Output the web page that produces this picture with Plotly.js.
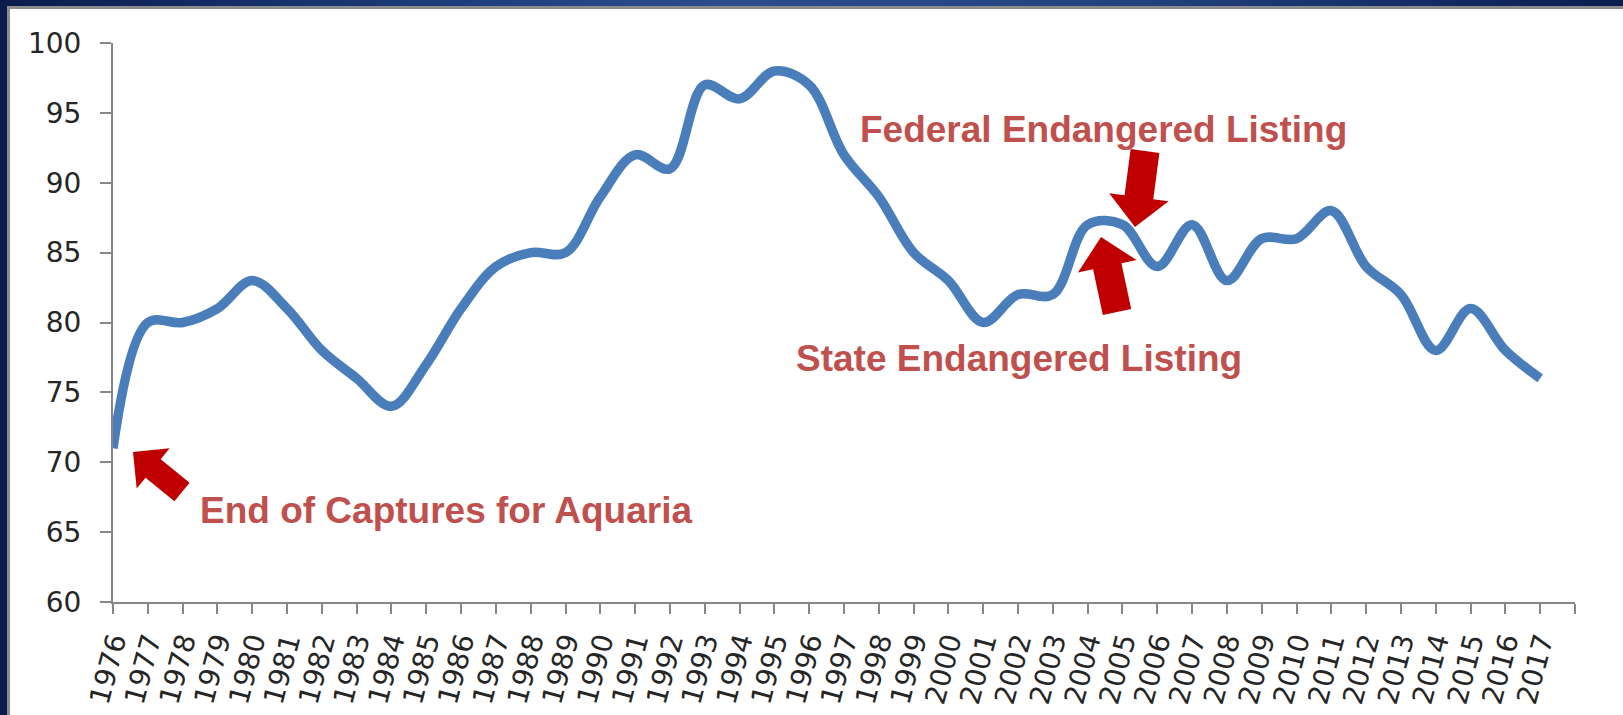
<!DOCTYPE html>
<html><head><meta charset="utf-8">
<script src="https://cdn.plot.ly/plotly-3.0.1.min.js"></script>
<style>
html,body{margin:0;padding:0;width:1623px;height:715px;overflow:hidden;}
body{background:linear-gradient(90deg,#0a1c4c 0%,#1c3a78 25%,#2c4d8c 45%,#22427f 70%,#0a1d50 100%);position:relative;}
#panel{position:absolute;left:7px;top:6px;right:0;bottom:0;background:#fff;border-left:3px solid #8c8c8c;border-top:3px solid #8c8c8c;}
#chart{position:absolute;left:0;top:0;width:1623px;height:715px;}
</style></head>
<body><div id="panel"></div><div id="chart"></div>
<script>
// ---- data ----
const years = [1976,1977,1978,1979,1980,1981,1982,1983,1984,1985,1986,1987,1988,1989,1990,1991,1992,1993,1994,1995,1996,1997,1998,1999,2000,2001,2002,2003,2004,2005,2006,2007,2008,2009,2010,2011,2012,2013,2014,2015,2016,2017];
const values = [71,80,80,81,83,81,78,76,74,77,81,84,85,85,89,92,91,97,96,98,97,92,89,85,83,80,82,82,87,87,84,87,83,86,86,88,84,82,78,81,78,76];
const tickYears = [1976,1977,1978,1979,1980,1981,1982,1983,1984,1985,1986,1987,1988,1989,1990,1991,1992,1993,1994,1995,1996,1997,1998,1999,2000,2001,2002,2003,2004,2005,2006,2007,2008,2009,2010,2011,2012,2013,2014,2015,2016,2017,2018];
const tickLabels = ['1976','1977','1978','1979','1980','1981','1982','1983','1984','1985','1986','1987','1988','1989','1990','1991','1992','1993','1994','1995','1996','1997','1998','1999','2000','2001','2002','2003','2004','2005','2006','2007','2008','2009','2010','2011','2012','2013','2014','2015','2016','2017',''];
const yTicks = [60,65,70,75,80,85,90,95,100];
const noteTexts = ['End of Captures for Aquaria','Federal Endangered Listing','State Endangered Listing'];

// ---- layout geometry (pixels) ----
const W = 1623, H = 715;
const M = {l:113, r:48, t:43, b:113};
const PW = W - M.l - M.r, PH = H - M.t - M.b;
const px2paper = (x,y) => [(x - M.l)/PW, (H - M.b - y)/PH];

function arrowPath(tip, tail, shaftW, headW, headL){
  const dx = tail[0]-tip[0], dy = tail[1]-tip[1];
  const len = Math.hypot(dx,dy);
  const ux = dx/len, uy = dy/len, nx = -uy, ny = ux;
  const hb = [tip[0]+ux*headL, tip[1]+uy*headL];
  const pts = [
    tip,
    [hb[0]+nx*headW/2, hb[1]+ny*headW/2],
    [hb[0]+nx*shaftW/2, hb[1]+ny*shaftW/2],
    [tail[0]+nx*shaftW/2, tail[1]+ny*shaftW/2],
    [tail[0]-nx*shaftW/2, tail[1]-ny*shaftW/2],
    [hb[0]-nx*shaftW/2, hb[1]-ny*shaftW/2],
    [hb[0]-nx*headW/2, hb[1]-ny*headW/2]
  ].map(p => px2paper(p[0],p[1]));
  return 'M' + pts.map(p => p[0].toFixed(5)+','+p[1].toFixed(5)).join('L') + 'Z';
}
function arrowShape(path){
  return {type:'path', xref:'paper', yref:'paper', path:path, fillcolor:'#C00000', line:{width:0}, layer:'above'};
}
function note(text, x, y){
  const p = px2paper(x,y);
  return {xref:'paper', yref:'paper', x:p[0], y:p[1], xanchor:'left', yanchor:'middle', showarrow:false,
    text:'<b>'+text+'</b>', font:{family:'Liberation Sans, Arial, sans-serif', size:37, color:'#C0504D'}};
}

const trace = {
  x: years, y: values, type:'scatter', mode:'lines',
  line:{color:'#4A7EBB', width:9.5, shape:'spline', smoothing:1},
  hoverinfo:'skip'
};

const axisFont = {family:'DejaVu Sans, Verdana, sans-serif', size:28, color:'#262626'};
const layout = {
  width:W, height:H,
  margin:M,
  paper_bgcolor:'rgba(0,0,0,0)', plot_bgcolor:'rgba(0,0,0,0)',
  showlegend:false,
  xaxis:{
    type:'linear', range:[1976,2018], tickmode:'array', tickvals:tickYears, ticktext:tickLabels,
    tickangle:-75, tickfont:axisFont, ticks:'outside', ticklen:10, tickwidth:2, tickcolor:'#878787',
    showline:true, linecolor:'#878787', linewidth:2, showgrid:false, zeroline:false, automargin:false
  },
  yaxis:{
    range:[60,100], tickmode:'array', tickvals:yTicks, tickfont:axisFont, ticks:'outside', ticklen:11,
    tickwidth:2, tickcolor:'#878787', showline:true, linecolor:'#878787', linewidth:2,
    showgrid:false, zeroline:false, automargin:false, ticklabelstandoff:13
  },
  shapes:[
    arrowShape(arrowPath([133,452],[182,492],24,52,26)),
    arrowShape(arrowPath([1135,227],[1145,151],29,60,30)),
    arrowShape(arrowPath([1101,237],[1117,312],29,60,30))
  ],
  annotations:[
    note(noteTexts[0], 198, 511),
    note(noteTexts[1], 858, 129),
    note(noteTexts[2], 794, 359)
  ]
};
Plotly.newPlot('chart',[trace],layout,{displayModeBar:false,staticPlot:true});
</script></body></html>
